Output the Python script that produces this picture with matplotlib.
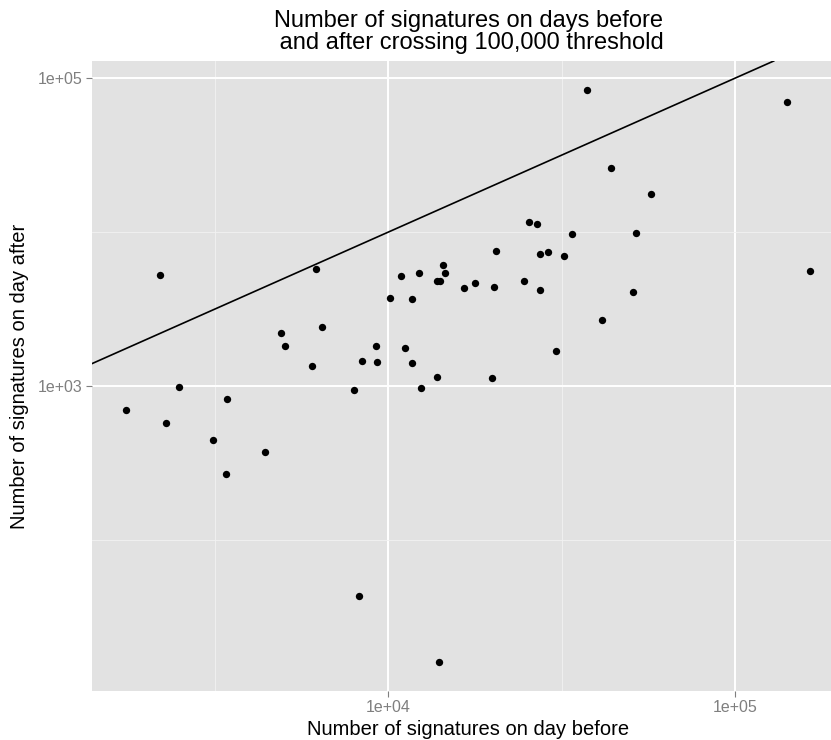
import numpy as np
import matplotlib.pyplot as plt
from matplotlib.ticker import FixedLocator, NullFormatter

plt.rcParams['font.family'] = ['Liberation Sans', 'DejaVu Sans']

# signatures on the day before / the day after crossing 100,000
before = [2198, 6173, 10850, 12228, 14341, 14601, 13812, 14120, 10113, 11704,
          6424, 4893, 5024, 9235, 11194, 6027, 8415, 9253, 11727, 13812,
          37530, 141500, 44000, 57390, 25490, 26830, 33970, 51950, 20430, 27480,
          28850, 32150, 164500, 16560, 17810, 20160, 24650, 27420, 50830, 41370,
          30550, 19980, 2499, 1754, 2292, 3420, 3131, 4412, 3397, 7943,
          12450, 8248, 14000]
after = [5289, 5735, 5212, 5451, 6143, 5402, 4834, 4813, 3749, 3660,
         2429, 2221, 1811, 1828, 1758, 1355, 1454, 1432, 1404, 1139,
         84330, 70460, 26000, 17780, 11640, 11246, 9683, 9829, 7507, 7243,
         7396, 6998, 5565, 4355, 4650, 4420, 4834, 4207, 4083, 2685,
         1689, 1132, 985, 698, 572, 827, 448, 374, 267, 946,
         975, 43, 16]

x_major = [1e4, 1e5]
x_labels = ['1e+04', '1e+05']
y_major = [1e3, 1e5]
y_labels = ['1e+03', '1e+05']

fig = plt.figure(figsize=(8.31, 7.4), dpi=100)
# panel runs a little past the right edge of the figure
ax = fig.add_axes([92 / 831, 49 / 740, 752 / 831, 630 / 740])
ax.set_facecolor('#E2E2E2')

ax.set_xscale('log')
ax.set_yscale('log')
ax.set_xlim(10 ** 3.1455, 10 ** 5.3147)
ax.set_ylim(10 ** 1.018, 10 ** 5.112)

# ggplot-like grid: major at labelled breaks, minor halfway in log space
ax.xaxis.set_major_locator(FixedLocator(x_major))
ax.xaxis.set_minor_locator(FixedLocator([10 ** 3.5, 10 ** 4.5]))
ax.yaxis.set_major_locator(FixedLocator(y_major))
ax.yaxis.set_minor_locator(FixedLocator([1e2, 1e4]))
ax.set_xticklabels(x_labels)
ax.set_yticklabels(y_labels)
ax.xaxis.set_minor_formatter(NullFormatter())
ax.yaxis.set_minor_formatter(NullFormatter())

ax.grid(which='major', color='white', linewidth=1.4)
ax.grid(which='minor', color='#F2F2F2', linewidth=0.6)
ax.set_axisbelow(True)
for s in ax.spines.values():
    s.set_visible(False)

ax.tick_params(which='major', length=4.3, width=0.8, color='#7F7F7F',
               labelcolor='#7F7F7F', labelsize=11.5, pad=2.5)
ax.tick_params(which='minor', length=0)

# y = x reference line
ax.axline((1e3, 1e3), (1e5, 1e5), color='black', linewidth=1.2)
ax.scatter(before, after, s=28, color='black', zorder=3, linewidths=0)

ax.set_xlabel('Number of signatures on day before', size=14.5, labelpad=3)
ax.set_ylabel('Number of signatures on day after', size=14.5, labelpad=6)
ax.set_title('Number of signatures on days before\n and after crossing 100,000 threshold',
             size=17, pad=9, linespacing=0.95)

fig.savefig('out.png', dpi=100)
